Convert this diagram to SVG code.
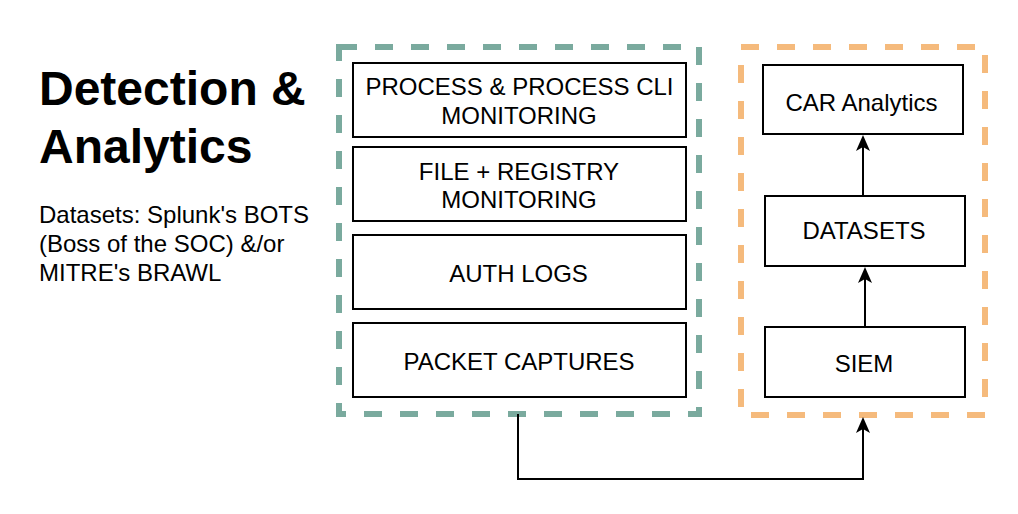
<svg xmlns="http://www.w3.org/2000/svg" width="1018" height="514" viewBox="0 0 1018 514">
  <style>
    .bg { fill: #ffffff; }
    .box { fill: #ffffff; stroke: #000000; stroke-width: 2; }
    .grp-green { fill: none; stroke: #7AAA9E; stroke-width: 6; stroke-dasharray: 18 18; }
    .grp-orange { fill: none; stroke: #F5BA7C; stroke-width: 6; stroke-dasharray: 18 18; }
    .lbl { font-family: "Liberation Sans", Arial, Helvetica, sans-serif; font-size: 24px; fill: #000000; text-anchor: middle; }
    .title { font-family: "Liberation Sans", Arial, Helvetica, sans-serif; font-size: 48px; font-weight: bold; fill: #000000; }
    .sub { font-family: "Liberation Sans", Arial, Helvetica, sans-serif; font-size: 24px; fill: #000000; }
    .edge { fill: none; stroke: #000000; stroke-width: 2; marker-end: url(#arrow); }
  </style>
  <defs>
    <marker id="arrow" markerUnits="userSpaceOnUse" viewBox="0 0 16 16" markerWidth="16" markerHeight="16" refX="4" refY="8" orient="auto">
      <path d="M0,1 L16,8 L0,15 L4,8 Z" fill="#000000" stroke="none"/>
    </marker>
  </defs>
  <rect class="bg" x="0" y="0" width="1018" height="514"/>

  <g id="title">
    <text class="title" x="39" y="105">Detection &amp;</text>
    <text class="title" x="39" y="162.5">Analytics</text>
  </g>
  <g id="subtitle">
    <text class="sub" x="39" y="223">Datasets: Splunk's BOTS</text>
    <text class="sub" x="39" y="251.8">(Boss of the SOC) &amp;/or</text>
    <text class="sub" x="39" y="280.6">MITRE's BRAWL</text>
  </g>

  <g id="group-sources">
    <rect class="grp-green" x="339" y="47" width="360" height="367"/>
  </g>
  <g id="group-analytics">
    <rect class="grp-orange" x="741" y="47" width="244" height="368"/>
  </g>

  <g id="node-process">
    <rect class="box" x="353" y="63" width="333" height="74"/>
    <text class="lbl" x="519.5" y="95">PROCESS &amp; PROCESS CLI</text>
    <text class="lbl" x="519" y="123.5">MONITORING</text>
  </g>
  <g id="node-file">
    <rect class="box" x="353" y="147" width="333" height="74"/>
    <text class="lbl" x="519" y="179.5">FILE + REGISTRY</text>
    <text class="lbl" x="519" y="207.5">MONITORING</text>
  </g>
  <g id="node-auth">
    <rect class="box" x="353" y="235" width="333" height="74"/>
    <text class="lbl" x="518.5" y="281.5">AUTH LOGS</text>
  </g>
  <g id="node-pcap">
    <rect class="box" x="353" y="323" width="333" height="74"/>
    <text class="lbl" x="519" y="369.5">PACKET CAPTURES</text>
  </g>

  <g id="node-car">
    <rect class="box" x="763" y="65" width="200" height="69"/>
    <text class="lbl" x="861.5" y="110.5">CAR Analytics</text>
  </g>
  <g id="node-datasets">
    <rect class="box" x="765" y="196" width="200" height="70"/>
    <text class="lbl" x="864" y="239">DATASETS</text>
  </g>
  <g id="node-siem">
    <rect class="box" x="765" y="327" width="200" height="70"/>
    <text class="lbl" x="864" y="372">SIEM</text>
  </g>

  <g id="connectors">
    <path class="edge" d="M863,196 V147"/>
    <path class="edge" d="M865,327 V279"/>
    <path class="edge" d="M518,414 V479 H863 V429"/>
  </g>
</svg>
